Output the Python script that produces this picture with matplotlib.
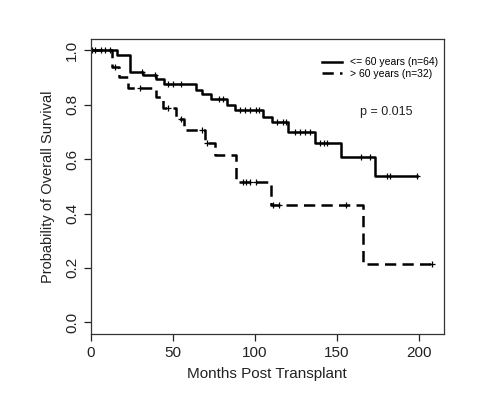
import numpy as np
import matplotlib
matplotlib.use("Agg")
import matplotlib.pyplot as plt

plt.rcParams['font.family'] = ['Liberation Sans', 'DejaVu Sans']

# <= 60 years: event times (months) and survival after each event
young_t = [15.8, 24.0, 32.0, 40.0, 45.0, 64.5, 68.0, 73.6, 83.0, 88.0, 105.0, 110.4, 120.5, 136.8, 152.4, 173.4]
young_s = [0.984, 0.922, 0.910, 0.894, 0.878, 0.856, 0.839, 0.820, 0.801, 0.779, 0.756, 0.735, 0.700, 0.658, 0.609, 0.538]
young_end = 198.8
young_cens = [0.5, 2.5, 6.5, 8.5, 11.5, 31.5, 39.5, 47.0, 50.5, 55.0, 78.0, 81.0,
              91.0, 94.0, 97.0, 101.0, 102.5, 113.5, 117.0, 119.0, 124.5, 127.5, 130.5, 133.5,
              140.0, 142.0, 144.0, 165.0, 170.5, 180.5, 182.5, 198.8]

# > 60 years
old_t = [13.0, 17.0, 23.0, 40.0, 44.0, 52.0, 57.0, 69.7, 75.8, 88.6, 109.7, 166.0]
old_s = [0.938, 0.903, 0.863, 0.828, 0.787, 0.748, 0.707, 0.658, 0.615, 0.517, 0.433, 0.216]
old_end = 207.9
old_cens = [15.0, 29.8, 47.0, 55.0, 68.0, 71.0, 93.0, 95.0, 97.0, 101.0, 111.0, 115.0, 156.0, 207.9]

labels = ['<= 60 years (n=64)', '> 60 years (n=32)']


def km_arrays(t, s, end):
    tt = np.r_[0.0, t, end]
    ss = np.r_[1.0, s, s[-1]]
    return tt, ss


def cens_y(tt, ss, c):
    idx = np.searchsorted(tt, c, side='right') - 1
    return ss[np.clip(idx, 0, len(ss) - 1)]


fig = plt.figure(figsize=(5.0, 3.95), dpi=100)
ax = fig.add_axes([0.1814, 0.1544, 0.7066, 0.7469])

ty, sy = km_arrays(young_t, young_s, young_end)
to, so = km_arrays(old_t, old_s, old_end)

ax.step(ty, sy, where='post', color='black', lw=1.8, label=labels[0])
ax.plot(young_cens, cens_y(ty, sy, np.array(young_cens)), '+', color='black',
        ms=5, mew=0.9)

ax.step(to, so, where='post', color='black', lw=1.8, dashes=(4.5, 2.5), label=labels[1])
ax.plot(old_cens, cens_y(to, so, np.array(old_cens)), '+', color='black',
        ms=5, mew=0.9)

ax.set_xlim(0, 215.5)
ax.set_ylim(-0.043, 1.042)
ax.set_xticks([0, 50, 100, 150, 200])
ax.set_yticks([0.0, 0.2, 0.4, 0.6, 0.8, 1.0])
ax.set_yticklabels(['0.0', '0.2', '0.4', '0.6', '0.8', '1.0'], rotation=90, va='center')
ax.tick_params(direction='out', length=5, width=0.9, labelsize=11, colors='#222222')
for sp in ax.spines.values():
    sp.set_color('#333333')
    sp.set_linewidth(0.9)

ax.set_xlabel('Months Post Transplant', fontsize=11, color='#222222', labelpad=5)
ax.set_ylabel('Probability of Overall Survival', fontsize=10.5, color='#222222', labelpad=7)

ax.legend(loc='upper right', bbox_to_anchor=(0.999, 0.955), frameon=False, fontsize=7.5,
          handlelength=1.9, handletextpad=0.8, borderpad=0, labelspacing=0.15)
ax.text(0.836, 0.752, 'p = 0.015', transform=ax.transAxes, fontsize=9,
        ha='center', va='center', color='#222222')

fig.savefig('out.png', dpi=100)
